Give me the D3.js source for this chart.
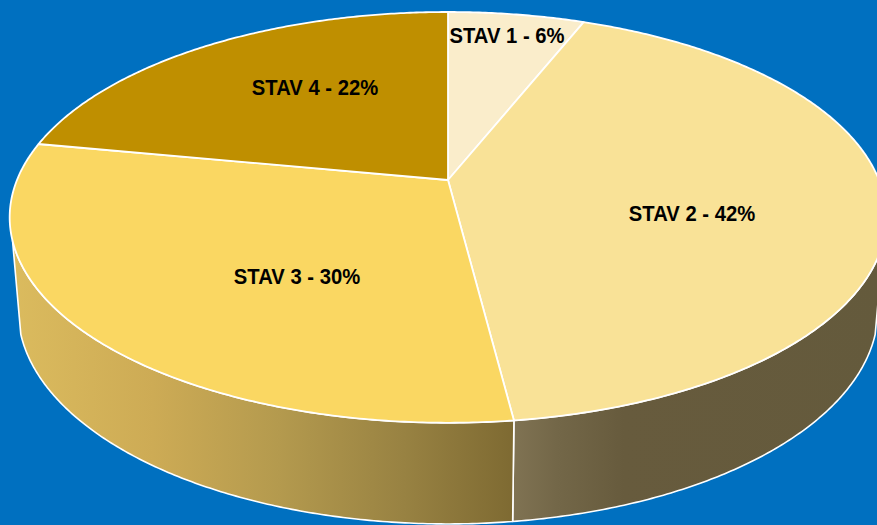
<!DOCTYPE html>
<html>
<head>
<meta charset="utf-8">
<script src="https://cdn.jsdelivr.net/npm/d3@7"></script>
<style>
  html, body { margin: 0; padding: 0; background: #0070C0; overflow: hidden; }
  svg { display: block; }
</style>
</head>
<body>
<svg id="chart" width="877" height="525"></svg>
<script>
// ---- data ----
const categories = ["STAV 1", "STAV 2", "STAV 3", "STAV 4"];
const shares = [6, 42, 30, 22];
const labelTexts = ["STAV 1 - 6%", "STAV 2 - 42%", "STAV 3 - 30%", "STAV 4 - 22%"];

// ---- styles ----
const topColors = ["#FAEDCB", "#F9E297", "#FAD762", "#BF8F00"];
// side-wall shading stops (offset along x across the wall, colour)
const wallStops = [
  [[0, "#E2CFA0"], [1, "#B8A070"]],
  [[0, "#807353"], [0.12, "#736748"], [0.3, "#675B3D"], [1, "#645A3C"]],
  [[0, "#DBBB5E"], [0.28, "#CDAB55"], [0.53, "#B49A4E"], [0.78, "#988242"], [1, "#7E6A32"]],
  [[0, "#8F6B00"], [1, "#6F5300"]]
];
// label anchors (centre x, baseline y)
const labelPos = [[507, 43], [692, 221], [297, 284], [315, 95]];

// ---- projection of the tilted disc ----
const W = 877, H = 525;
const persp = 0.182;                        // perspective strength
const topFace = { cx: 448, cy: 180, ax: 431, by: 198.6 };
const botFace = { cx: 448, cy: 271, ax: 422.8, by: 206.9 };
const silhouetteV = 0.29;                   // depth where the wall turns away

function project(face, angle, r = 1) {
  const u = Math.sin(angle) * r, v = -Math.cos(angle) * r;
  const s = 1 / (1 - persp * v);
  return [face.cx + face.ax * u * s, face.cy + face.by * v * s];
}

function arcPoints(face, a0, a1, n) {
  const pts = [];
  const steps = Math.max(2, Math.ceil(Math.abs(a1 - a0) / (Math.PI / 180) * (n || 1)));
  for (let i = 0; i <= steps; i++) pts.push(project(face, a0 + (a1 - a0) * i / steps));
  return pts;
}

const svg = d3.select("#chart");
svg.append("rect").attr("width", W).attr("height", H).attr("fill", "#0070C0");

const pie = d3.pie().sort(null).value(d => d.value);
const arcs = pie(categories.map((c, i) => ({ name: c, value: shares[i], i })));

const defs = svg.append("defs");
const line = d3.line();

// visible wall range (front of the disc)
const visA0 = Math.PI - Math.acos(silhouetteV);
const visA1 = Math.PI + Math.acos(silhouetteV);

// wall gradients + walls
const walls = svg.append("g");
arcs.forEach(a => {
  const s = Math.max(a.startAngle, visA0), e = Math.min(a.endAngle, visA1);
  if (e <= s) return;
  const topArc = arcPoints(topFace, s, e, 2);
  const botArc = arcPoints(botFace, e, s, 2);
  const xs = topArc.concat(botArc).map(p => p[0]);
  const gid = "wall" + a.data.i;
  const g = defs.append("linearGradient").attr("id", gid)
    .attr("gradientUnits", "userSpaceOnUse")
    .attr("x1", d3.min(xs)).attr("x2", d3.max(xs)).attr("y1", 0).attr("y2", 0);
  wallStops[a.data.i].forEach(([o, c]) => g.append("stop").attr("offset", o).attr("stop-color", c));
  walls.append("path")
    .attr("d", line(topArc.concat(botArc)) + "Z")
    .attr("fill", `url(#${gid})`)
    .attr("stroke", "#FFFFFF")
    .attr("stroke-width", 1.6)
    .attr("stroke-linejoin", "round");
});

// top face slices
const tops = svg.append("g");
arcs.forEach(a => {
  const pts = [project(topFace, 0, 0)].concat(arcPoints(topFace, a.startAngle, a.endAngle, 2));
  tops.append("path")
    .attr("d", line(pts) + "Z")
    .attr("fill", topColors[a.data.i])
    .attr("stroke", "#FFFFFF")
    .attr("stroke-width", 1.8)
    .attr("stroke-linejoin", "round");
});

// data labels
svg.append("g").selectAll("text")
  .data(arcs)
  .join("text")
  .attr("transform", d => `translate(${labelPos[d.data.i][0]},${labelPos[d.data.i][1]}) scale(0.92,1)`)
  .attr("text-anchor", "middle")
  .attr("font-family", "'Liberation Sans', Arial, sans-serif")
  .attr("font-weight", "bold")
  .attr("font-size", 22)
  .attr("fill", "#000000")
  .text(d => labelTexts[d.data.i]);
</script>
</body>
</html>
